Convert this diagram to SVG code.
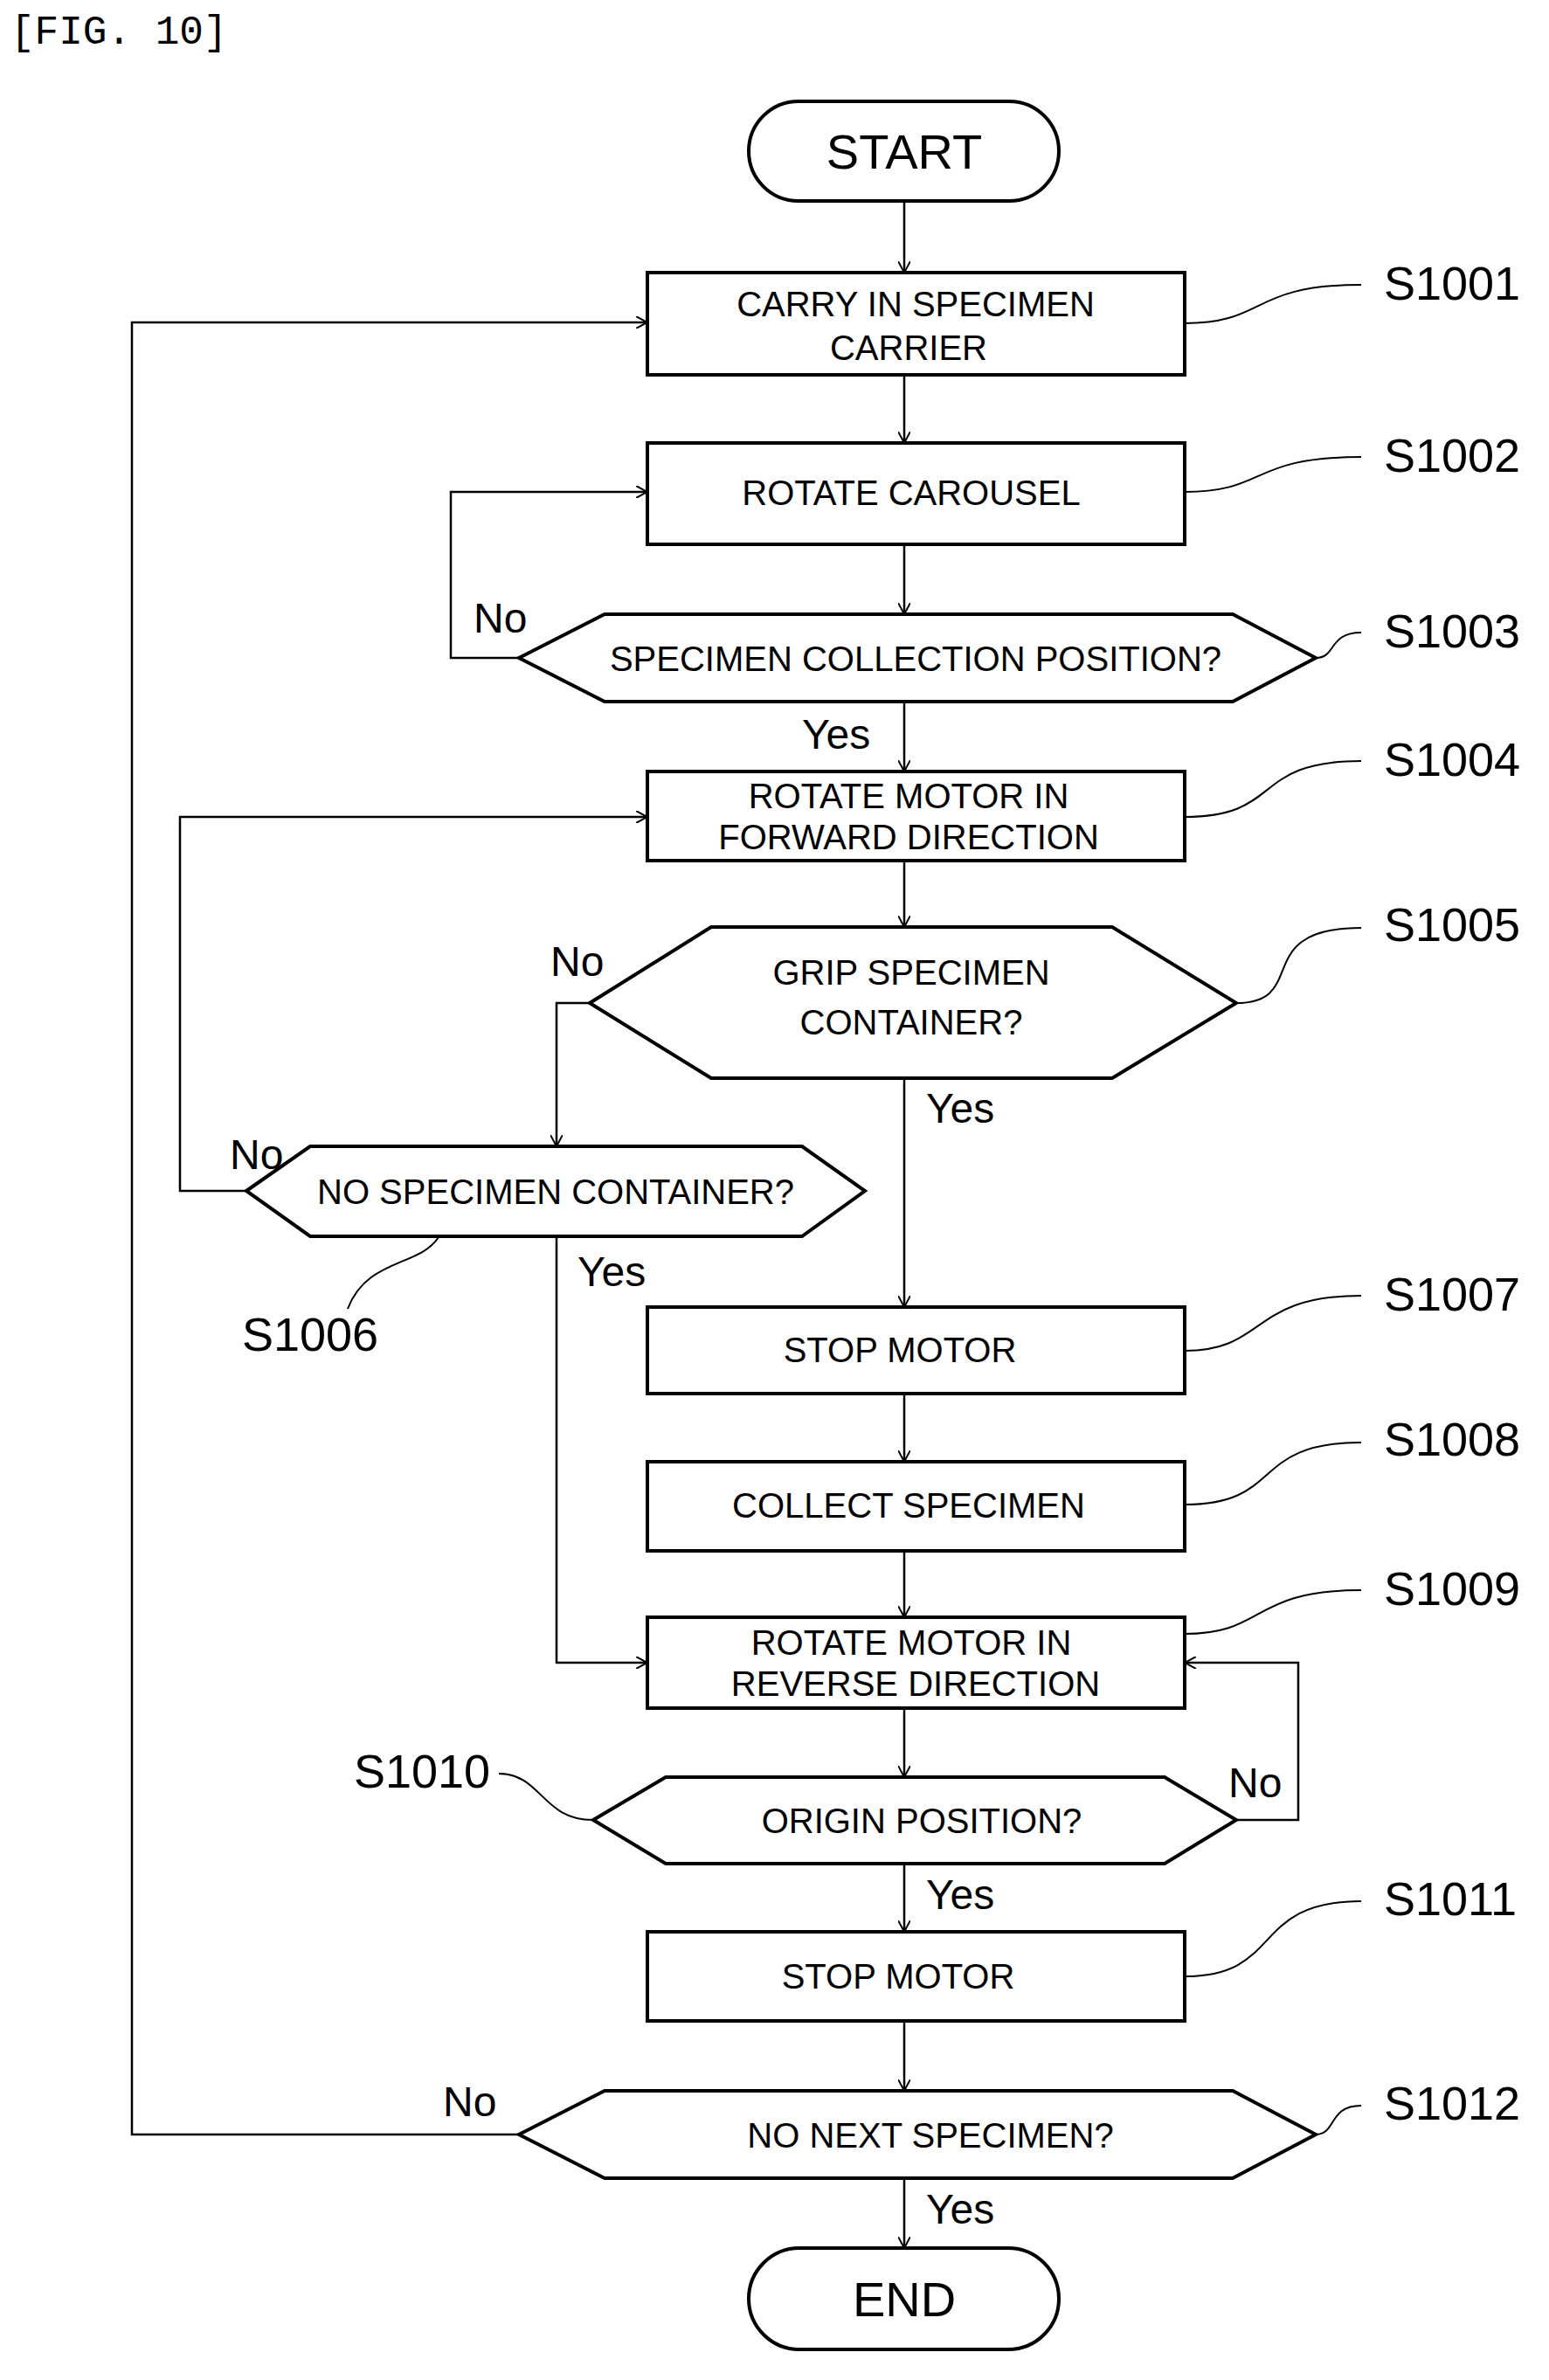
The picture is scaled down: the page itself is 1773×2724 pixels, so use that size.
<svg xmlns="http://www.w3.org/2000/svg" width="1773" height="2724" viewBox="0 0 1773 2724">
<defs>
<marker id="a" markerWidth="14" markerHeight="14" refX="13" refY="7" orient="auto" markerUnits="userSpaceOnUse"><path d="M0,0 L13,7 L0,14" fill="none" stroke="#000" stroke-width="2"/></marker>
<style>
.b{fill:#fff;stroke:#000;stroke-width:4}
.t{font-family:"Liberation Sans",Arial,sans-serif;font-size:40px;text-anchor:middle;fill:#000}
.t.big{font-size:56px}
.s{font-family:"Liberation Sans",Arial,sans-serif;font-size:54px;fill:#000}
.l{font-family:"Liberation Sans",Arial,sans-serif;font-size:48px;fill:#000}
.c{fill:none;stroke:#000;stroke-width:2.5}
.q{fill:none;stroke:#000;stroke-width:2}
</style>
</defs>
<rect width="1773" height="2724" fill="#fff"/>
<text x="12" y="50" font-family="Liberation Mono,monospace" font-size="46">[FIG. 10]</text>
<g id="connectors">
<path class="c" d="M1035,230 V312" marker-end="url(#a)"/>
<path class="c" d="M1035,429 V507" marker-end="url(#a)"/>
<path class="c" d="M1035,623 V703" marker-end="url(#a)"/>
<path class="c" d="M1035,803 V883" marker-end="url(#a)"/>
<path class="c" d="M1035,985 V1061" marker-end="url(#a)"/>
<path class="c" d="M1035,1234 V1496" marker-end="url(#a)"/>
<path class="c" d="M1035,1595 V1673" marker-end="url(#a)"/>
<path class="c" d="M1035,1775 V1851" marker-end="url(#a)"/>
<path class="c" d="M1035,1955 V2034" marker-end="url(#a)"/>
<path class="c" d="M1035,2133 V2211" marker-end="url(#a)"/>
<path class="c" d="M1035,2313 V2393" marker-end="url(#a)"/>
<path class="c" d="M1035,2493 V2573" marker-end="url(#a)"/>
<path class="c" d="M594,2443 H151 V369 H741" marker-end="url(#a)"/>
<path class="c" d="M594,753 H516 V563 H741" marker-end="url(#a)"/>
<path class="c" d="M282,1363 H206 V935 H741" marker-end="url(#a)"/>
<path class="c" d="M675,1148 H637 V1312" marker-end="url(#a)"/>
<path class="c" d="M637,1415 V1903 H741" marker-end="url(#a)"/>
<path class="c" d="M1415,2083 H1486 V1903 H1356" marker-end="url(#a)"/>
<path class="q" d="M1356,370 C1450,370 1430,326 1558,326"/>
<path class="q" d="M1356,563 C1450,563 1430,523 1558,523"/>
<path class="q" d="M1506,753 C1530,753 1520,724 1558,724"/>
<path class="q" d="M1356,935 C1470,935 1430,871 1558,871"/>
<path class="q" d="M1415,1148 C1500,1148 1430,1062 1558,1062"/>
<path class="q" d="M1356,1546 C1450,1546 1430,1483 1558,1483"/>
<path class="q" d="M1356,1722 C1470,1722 1430,1651 1558,1651"/>
<path class="q" d="M1356,1870 C1450,1870 1430,1820 1558,1820"/>
<path class="q" d="M1356,2262 C1470,2262 1430,2176 1558,2176"/>
<path class="q" d="M1506,2443 C1530,2443 1520,2410 1558,2410"/>
<path class="q" d="M502,1416 C480,1450 420,1440 398,1498"/>
<path class="q" d="M571,2030 C620,2030 620,2083 679,2083"/>
</g>
<g id="start"><rect class="b" x="857" y="116" width="355" height="114" rx="57"/><text class="t big" x="1035" y="193">START</text></g>
<g id="s1001"><rect class="b" x="741" y="312" width="615" height="117"/><text class="t" x="1048" y="362">CARRY IN SPECIMEN</text><text class="t" x="1040" y="412">CARRIER</text><text class="s" x="1584" y="343">S1001</text></g>
<g id="s1002"><rect class="b" x="741" y="507" width="615" height="116"/><text class="t" x="1043" y="578">ROTATE CAROUSEL</text><text class="s" x="1584" y="540">S1002</text></g>
<g id="s1003"><polygon class="b" points="594,753 692,703 1411,703 1506,753 1411,803 692,803"/><text class="t" x="1048" y="768">SPECIMEN COLLECTION POSITION?</text><text class="s" x="1584" y="741">S1003</text><text class="l" x="542" y="724">No</text><text class="l" x="918" y="857">Yes</text></g>
<g id="s1004"><rect class="b" x="741" y="883" width="615" height="102"/><text class="t" x="1040" y="925">ROTATE MOTOR IN</text><text class="t" x="1040" y="972">FORWARD DIRECTION</text><text class="s" x="1584" y="888">S1004</text></g>
<g id="s1005"><polygon class="b" points="675,1148 814,1061 1273,1061 1415,1148 1273,1234 814,1234"/><text class="t" x="1043" y="1127">GRIP SPECIMEN</text><text class="t" x="1043" y="1184">CONTAINER?</text><text class="s" x="1584" y="1077">S1005</text><text class="l" x="630" y="1117">No</text><text class="l" x="1060" y="1285">Yes</text></g>
<g id="s1006"><polygon class="b" points="282,1363 355,1312 918,1312 990,1363 918,1415 355,1415"/><text class="t" x="636" y="1378">NO SPECIMEN CONTAINER?</text><text class="s" x="277" y="1546">S1006</text><text class="l" x="263" y="1338">No</text><text class="l" x="661" y="1472">Yes</text></g>
<g id="s1007"><rect class="b" x="741" y="1496" width="615" height="99"/><text class="t" x="1030" y="1559">STOP MOTOR</text><text class="s" x="1584" y="1500">S1007</text></g>
<g id="s1008"><rect class="b" x="741" y="1673" width="615" height="102"/><text class="t" x="1040" y="1737">COLLECT SPECIMEN</text><text class="s" x="1584" y="1666">S1008</text></g>
<g id="s1009"><rect class="b" x="741" y="1851" width="615" height="104"/><text class="t" x="1043" y="1894">ROTATE MOTOR IN</text><text class="t" x="1048" y="1941">REVERSE DIRECTION</text><text class="s" x="1584" y="1837">S1009</text></g>
<g id="s1010"><polygon class="b" points="679,2083 762,2034 1333,2034 1415,2083 1333,2133 762,2133"/><text class="t" x="1055" y="2098">ORIGIN POSITION?</text><text class="s" x="405" y="2046">S1010</text><text class="l" x="1406" y="2057">No</text><text class="l" x="1060" y="2185">Yes</text></g>
<g id="s1011"><rect class="b" x="741" y="2211" width="615" height="102"/><text class="t" x="1028" y="2276">STOP MOTOR</text><text class="s" x="1584" y="2192">S1011</text></g>
<g id="s1012"><polygon class="b" points="594,2443 692,2393 1411,2393 1506,2443 1411,2493 692,2493"/><text class="t" x="1065" y="2458">NO NEXT SPECIMEN?</text><text class="s" x="1584" y="2426">S1012</text><text class="l" x="507" y="2422">No</text><text class="l" x="1060" y="2545">Yes</text></g>
<g id="end"><rect class="b" x="857" y="2573" width="355" height="116" rx="58"/><text class="t big" x="1035" y="2651">END</text></g>
</svg>
